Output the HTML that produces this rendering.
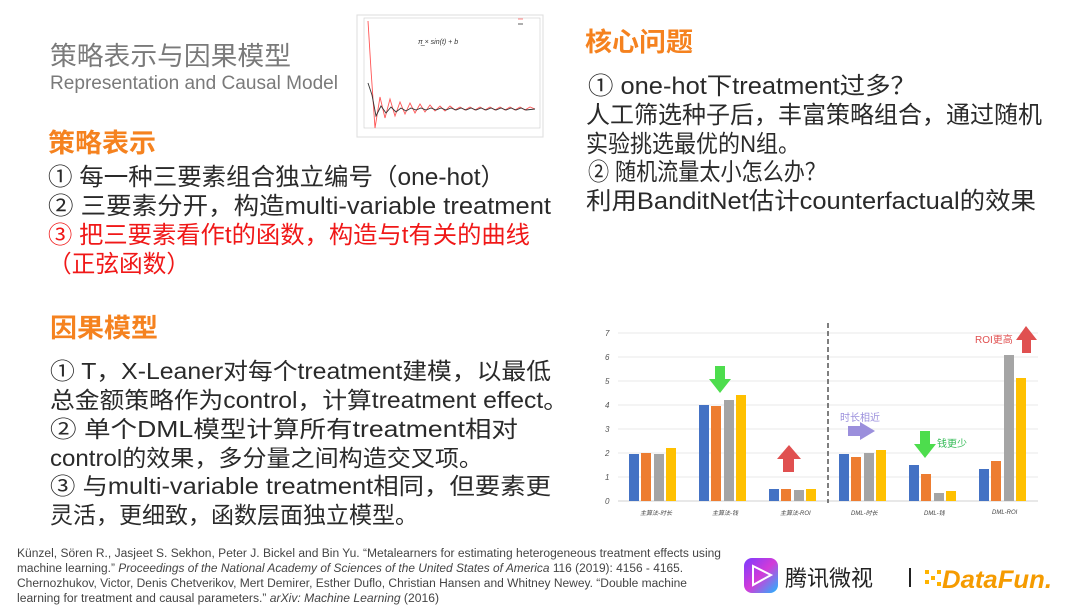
<!DOCTYPE html>
<html><head><meta charset="utf-8"><style>
html,body{margin:0;padding:0;background:#fff;}
svg{display:block;}
.cn{font-family:"Liberation Sans","Noto Sans CJK SC",sans-serif;}
</style></head><body>
<svg width="1080" height="608" viewBox="0 0 1080 608" xmlns="http://www.w3.org/2000/svg" class="cn">
<rect width="1080" height="608" fill="#fff"/>
<text x="50" y="65" font-size="26" fill="#7a7a7a" textLength="241" lengthAdjust="spacingAndGlyphs">策略表示与因果模型</text>
<text x="50" y="89" font-size="19" fill="#7a7a7a" textLength="288" lengthAdjust="spacingAndGlyphs">Representation and Causal Model</text>
<text x="48" y="152" font-size="26" font-weight="bold" fill="#f5821f" textLength="108" lengthAdjust="spacingAndGlyphs">策略表示</text>
<g font-size="24" fill="#2a2a2a">
<text x="48" y="185" textLength="457" lengthAdjust="spacingAndGlyphs">① 每一种三要素组合独立编号（one-hot）</text>
<text x="48" y="214" textLength="503" lengthAdjust="spacingAndGlyphs">② 三要素分开，构造multi-variable treatment</text>
<text x="48" y="243" fill="#f01818" textLength="482" lengthAdjust="spacingAndGlyphs">③ 把三要素看作t的函数，构造与t有关的曲线</text>
<text x="48" y="272" fill="#f01818" textLength="142" lengthAdjust="spacingAndGlyphs">（正弦函数）</text>
</g>
<text x="585" y="51" font-size="26" font-weight="bold" fill="#f5821f" textLength="108" lengthAdjust="spacingAndGlyphs">核心问题</text>
<g font-size="24" fill="#2a2a2a">
<text x="588" y="94" textLength="328" lengthAdjust="spacingAndGlyphs">① one-hot下treatment过多？</text>
<text x="586" y="123" textLength="456" lengthAdjust="spacingAndGlyphs">人工筛选种子后，丰富策略组合，通过随机</text>
<text x="586" y="152" textLength="214" lengthAdjust="spacingAndGlyphs">实验挑选最优的N组。</text>
<text x="588" y="180" textLength="238" lengthAdjust="spacingAndGlyphs">② 随机流量太小怎么办？</text>
<text x="586" y="209" textLength="450" lengthAdjust="spacingAndGlyphs">利用BanditNet估计counterfactual的效果</text>
</g>
<text x="50" y="337" font-size="26" font-weight="bold" fill="#f5821f" textLength="108" lengthAdjust="spacingAndGlyphs">因果模型</text>
<g font-size="23" fill="#2a2a2a">
<text x="50" y="379" textLength="501" lengthAdjust="spacingAndGlyphs">① T，X-Leaner对每个treatment建模，以最低</text>
<text x="50" y="408" textLength="518" lengthAdjust="spacingAndGlyphs">总金额策略作为control，计算treatment effect。</text>
<text x="50" y="437" textLength="468" lengthAdjust="spacingAndGlyphs">② 单个DML模型计算所有treatment相对</text>
<text x="50" y="466" textLength="433" lengthAdjust="spacingAndGlyphs">control的效果，多分量之间构造交叉项。</text>
<text x="50" y="494" textLength="501" lengthAdjust="spacingAndGlyphs">③ 与multi-variable treatment相同，但要素更</text>
<text x="50" y="523" textLength="368" lengthAdjust="spacingAndGlyphs">灵活，更细致，函数层面独立模型。</text>
</g>
<g font-size="11.5" fill="#444" font-family="'Liberation Sans Narrow','Liberation Sans',sans-serif">
<text x="17" y="557" textLength="704" lengthAdjust="spacingAndGlyphs">Künzel, Sören R., Jasjeet S. Sekhon, Peter J. Bickel and Bin Yu. “Metalearners for estimating heterogeneous treatment effects using</text>
<text x="17" y="572" textLength="666" lengthAdjust="spacingAndGlyphs">machine learning.” <tspan font-style="italic">Proceedings of the National Academy of Sciences of the United States of America</tspan> 116 (2019): 4156 - 4165.</text>
<text x="17" y="587" textLength="670" lengthAdjust="spacingAndGlyphs">Chernozhukov, Victor, Denis Chetverikov, Mert Demirer, Esther Duflo, Christian Hansen and Whitney Newey. “Double machine</text>
<text x="17" y="602" textLength="422" lengthAdjust="spacingAndGlyphs">learning for treatment and causal parameters.” <tspan font-style="italic">arXiv: Machine Learning</tspan> (2016)</text>
</g>
<rect x="357" y="15" width="186" height="122" fill="#fff" stroke="#ddd"/>
<rect x="364" y="18" width="176" height="110" fill="none" stroke="#ccc" stroke-width="0.6"/>
<text x="418" y="44" font-size="7" fill="#333" font-style="italic">π̲ × sin(t) + b</text>
<line x1="518" y1="19" x2="523" y2="19" stroke="#f66" stroke-width="0.8"/>
<line x1="518" y1="24" x2="523" y2="24" stroke="#333" stroke-width="0.8"/>
<polyline fill="none" stroke="#f55" stroke-width="0.9" points="368,21 371,70 375,128 380,97 385,118 390,99 395,116 400,102 405,114 410,103 415,113 420,104 425,112 430,105 435,111 440,106 445,111 450,106 455,110 460,107 465,110 470,107 475,110 480,107 485,110 490,107 495,110 500,107 505,110 510,107 515,110 520,107 525,110 530,107 535,109"/>
<polyline fill="none" stroke="#333" stroke-width="0.9" points="368,83 372,95 376,116 381,106 386,113 391,107 396,112 401,108 406,111 411,108 416,110 421,108 426,110 431,108 436,110 441,108 446,110 451,108 456,110 461,108 466,110 471,108 476,110 481,108 486,110 491,108 496,110 501,108 506,110 511,108 516,110 521,108 526,110 535,109"/>
<g stroke="#e8e8e8" stroke-width="1">
<line x1="618" y1="333" x2="1038" y2="333"/><line x1="618" y1="357" x2="1038" y2="357"/><line x1="618" y1="381" x2="1038" y2="381"/><line x1="618" y1="405" x2="1038" y2="405"/><line x1="618" y1="429" x2="1038" y2="429"/><line x1="618" y1="453" x2="1038" y2="453"/><line x1="618" y1="477" x2="1038" y2="477"/><line x1="618" y1="501" x2="1038" y2="501" stroke="#d0d0d0"/>
</g>
<g font-size="8" fill="#555" font-style="italic">
<text x="605" y="336">7</text><text x="605" y="360">6</text><text x="605" y="384">5</text><text x="605" y="408">4</text><text x="605" y="432">3</text><text x="605" y="456">2</text><text x="605" y="480">1</text><text x="605" y="504">0</text>
</g>
<line x1="828" y1="323" x2="828" y2="503" stroke="#555" stroke-width="1.5" stroke-dasharray="5,3"/>
<rect x="629" y="454" width="10" height="47" fill="#4472c4"/><rect x="641" y="453" width="10" height="48" fill="#ed7d31"/><rect x="654" y="454" width="10" height="47" fill="#a5a5a5"/><rect x="666" y="448" width="10" height="53" fill="#ffc000"/>
<rect x="699" y="405" width="10" height="96" fill="#4472c4"/><rect x="711" y="406" width="10" height="95" fill="#ed7d31"/><rect x="724" y="400" width="10" height="101" fill="#a5a5a5"/><rect x="736" y="395" width="10" height="106" fill="#ffc000"/>
<rect x="769" y="489" width="10" height="12" fill="#4472c4"/><rect x="781" y="489" width="10" height="12" fill="#ed7d31"/><rect x="794" y="490" width="10" height="11" fill="#a5a5a5"/><rect x="806" y="489" width="10" height="12" fill="#ffc000"/>
<rect x="839" y="454" width="10" height="47" fill="#4472c4"/><rect x="851" y="457" width="10" height="44" fill="#ed7d31"/><rect x="864" y="453" width="10" height="48" fill="#a5a5a5"/><rect x="876" y="450" width="10" height="51" fill="#ffc000"/>
<rect x="909" y="465" width="10" height="36" fill="#4472c4"/><rect x="921" y="474" width="10" height="27" fill="#ed7d31"/><rect x="934" y="493" width="10" height="8" fill="#a5a5a5"/><rect x="946" y="491" width="10" height="10" fill="#ffc000"/>
<rect x="979" y="469" width="10" height="32" fill="#4472c4"/><rect x="991" y="461" width="10" height="40" fill="#ed7d31"/><rect x="1004" y="355" width="10" height="146" fill="#a5a5a5"/><rect x="1016" y="378" width="10" height="123" fill="#ffc000"/>
<g font-size="6" fill="#444" font-style="italic">
<text x="640" y="515">主算法-时长</text><text x="712" y="515">主算法-钱</text><text x="780" y="515">主算法-ROI</text>
<text x="851" y="515">DML-时长</text><text x="924" y="515">DML-钱</text><text x="992" y="514">DML-ROI</text>
</g>
<polygon points="715,366 725,366 725,379 731,379 720,393 709,379 715,379" fill="#4ddd4d"/>
<polygon points="783,472 794,472 794,459 801,459 789,445 777,459 783,459" fill="#e05050"/>
<polygon points="848,426 860,426 860,422 875,431 860,440 860,436 848,436" fill="#9b8fdc"/>
<text x="840" y="421" font-size="10" fill="#9b8fdc">时长相近</text>
<polygon points="920,431 930,431 930,444 936,444 925,458 914,444 920,444" fill="#4ddd4d"/>
<text x="937" y="447" font-size="10" fill="#33bb55">钱更少</text>
<polygon points="1022,353 1031,353 1031,340 1037,340 1026,326 1016,340 1022,340" fill="#e05050"/>
<text x="975" y="343" font-size="10" fill="#e05050">ROI更高</text>
<defs><linearGradient id="lg" x1="0" y1="0" x2="1" y2="1"><stop offset="0" stop-color="#7a3cff"/><stop offset="0.5" stop-color="#d33bd8"/><stop offset="1" stop-color="#1fb8ff"/></linearGradient></defs>
<rect x="744" y="558" width="34" height="35" rx="8" fill="url(#lg)"/>
<polygon points="753,566 771,575 753,585" fill="none" stroke="#fff" stroke-width="2"/>
<text x="785" y="586" font-size="22" fill="#222">腾讯微视</text>
<line x1="910" y1="568" x2="910" y2="587" stroke="#222" stroke-width="2"/>
<g fill="#ffb300"><rect x="925" y="570" width="4" height="4"/><rect x="931" y="576" width="4" height="4"/><rect x="925" y="580" width="4" height="4"/><rect x="937" y="570" width="4" height="4"/><rect x="937" y="582" width="4" height="4"/></g>
<text x="942" y="588" font-size="25" font-weight="bold" font-style="italic" fill="#f59b00" textLength="110" lengthAdjust="spacingAndGlyphs">DataFun.</text>
</svg>
</body></html>
